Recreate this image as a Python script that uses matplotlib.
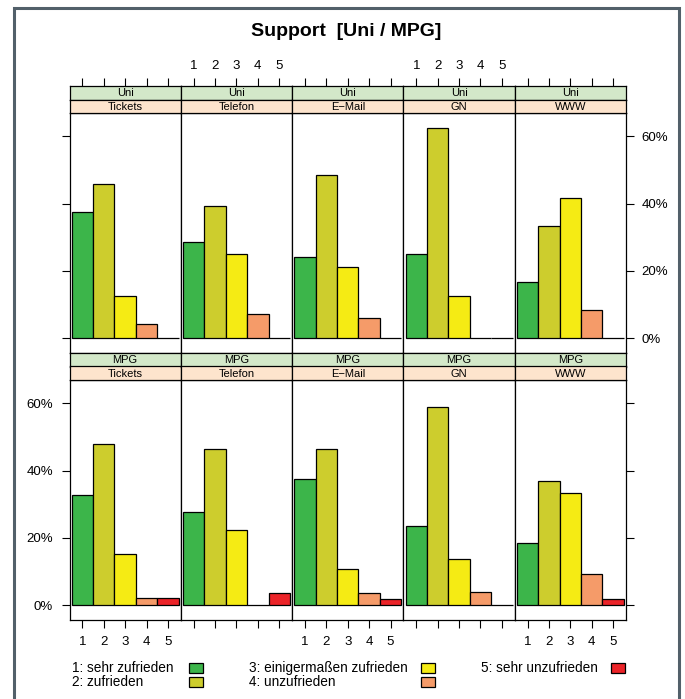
import matplotlib
matplotlib.use("Agg")
import matplotlib.pyplot as plt
from matplotlib.patches import Rectangle

plt.rcParams['font.family'] = ['Liberation Sans', 'DejaVu Sans']

# data (percent per answer level)
channels = ["Tickets", "Telefon", "E\u2212Mail", "GN", "WWW"]
groups = ["Uni", "MPG"]
levels = [1, 2, 3, 4, 5]
level_labels = ["1: sehr zufrieden", "2: zufrieden", "3: einigermaßen zufrieden",
                "4: unzufrieden", "5: sehr unzufrieden"]
uni_tickets = [37.5, 45.8, 12.5, 4.2, 0]
uni_telefon = [28.6, 39.3, 25.0, 7.1, 0]
uni_email = [24.2, 48.5, 21.2, 6.1, 0]
uni_gn = [25.0, 62.5, 12.5, 0, 0]
uni_www = [16.7, 33.3, 41.7, 8.3, 0]
mpg_tickets = [32.6, 47.8, 15.2, 2.2, 2.2]
mpg_telefon = [27.7, 46.3, 22.3, 0, 3.6]
mpg_email = [37.5, 46.4, 10.7, 3.6, 1.8]
mpg_gn = [23.6, 58.8, 13.7, 3.9, 0]
mpg_www = [18.5, 37.0, 33.3, 9.3, 1.9]
values = {"Uni": [uni_tickets, uni_telefon, uni_email, uni_gn, uni_www],
          "MPG": [mpg_tickets, mpg_telefon, mpg_email, mpg_gn, mpg_www]}
yticks = [0, 20, 40, 60]
ytick_labels = ["0%", "20%", "40%", "60%"]

colors = ["#3cb54a", "#cdcd2d", "#f5eb14", "#f59b69", "#eb2328"]
strip_green = "#d3e8c9"
strip_orange = "#fde4cd"

W, H = 685, 699
fig = plt.figure(figsize=(W / 100, H / 100), dpi=100)


def box(x0, y0, x1, y1):
    # pixel box (top-left origin) -> figure fraction rect
    return [x0 / W, 1 - y1 / H, (x1 - x0) / W, (y1 - y0) / H]


left, right = 69.5, 626.0
pw = (right - left) / 5
tick_len = 5.8
rows = {"Uni": (86, 99.5, 113, 353), "MPG": (353, 366.5, 380, 620)}

for r, grp in enumerate(groups):
    s_top, s_mid, p_top, p_bot = rows[grp]
    for i, ch in enumerate(channels):
        x0 = left + i * pw
        x1 = x0 + pw
        ax = fig.add_axes(box(x0, p_top, x1, p_bot))
        ax.bar(levels, values[grp][i], width=1, color=colors,
               edgecolor="black", linewidth=0.9)
        ax.set_xlim(0.4, 5.6)
        ax.set_ylim(-4.4, 66.9)
        ax.set_yticks(yticks)
        ax.set_yticklabels(ytick_labels)
        ax.set_xticks(levels)
        for sp in ax.spines.values():
            sp.set_linewidth(0.9)
        ax.tick_params(length=tick_len, width=0.8, labelsize=9.5, colors="black")
        ax.tick_params(axis="y", left=False, right=False, labelleft=False, labelright=False)
        ax.tick_params(axis="x", top=False, labeltop=False, pad=5.5)
        if grp == "Uni":
            ax.tick_params(axis="x", bottom=False, labelbottom=False)
            if i == 0:
                ax.tick_params(axis="y", left=True)
            if i == 4:
                ax.tick_params(axis="y", right=True, labelright=True, pad=5.5)
        else:
            ax.tick_params(axis="x", bottom=True, labelbottom=(i % 2 == 0))
            if i == 0:
                ax.tick_params(axis="y", left=True, labelleft=True, pad=6)
            if i == 4:
                ax.tick_params(axis="y", right=True)

        # strips: group on top (green), channel below (orange)
        sg = fig.add_axes(box(x0, s_top, x1, s_mid), facecolor=strip_green)
        so = fig.add_axes(box(x0, s_mid, x1, p_top), facecolor=strip_orange)
        for s, txt in ((sg, grp), (so, ch)):
            s.set_xlim(0.4, 5.6)
            s.set_yticks([])
            s.set_xticks([])
            for sp in s.spines.values():
                sp.set_linewidth(0.9)
            s.text(0.5, 0.47, txt, transform=s.transAxes, ha="center",
                   va="center", fontsize=8)
        if grp == "Uni":
            sg.set_xticks(levels)
            sg.tick_params(axis="x", bottom=False, labelbottom=False, top=True,
                           labeltop=(i % 2 == 1), length=tick_len, width=0.8,
                           labelsize=9.5, pad=4.5)

fig.text(346 / W, 1 - 31 / H, "Support  [Uni / MPG]", ha="center", va="center",
         fontsize=14, fontweight="bold")

# legend
col_text_x = [71.7, 249, 481]
col_box_x = [189, 421, 611]
row_y = [668, 682]
for k, lab in enumerate(level_labels):
    c, rr = divmod(k, 2)
    y = row_y[rr]
    fig.text(col_text_x[c] / W, 1 - y / H, lab, ha="left", va="center", fontsize=9.8)
    fig.patches.append(Rectangle((col_box_x[c] / W, 1 - (y + 5) / H), 14 / W, 10 / H,
                                 transform=fig.transFigure, facecolor=colors[k],
                                 edgecolor="black", linewidth=0.9))

# outer frame
fig.patches.append(Rectangle((13.7 / W, 1 - 702 / H), (679 - 13.7) / W, (702 - 8.3) / H,
                             transform=fig.transFigure, fill=False,
                             edgecolor="#52606a", linewidth=2.2, clip_on=False))

fig.savefig("out.png", dpi=100)
